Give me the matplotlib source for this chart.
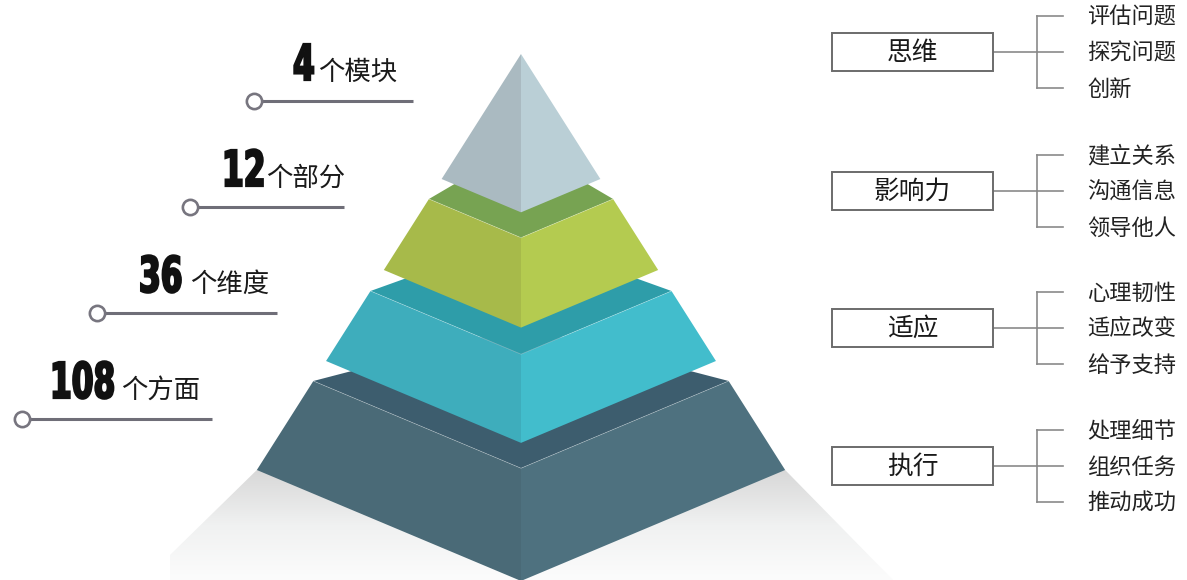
import numpy as np
import matplotlib
matplotlib.use("Agg")
import matplotlib.pyplot as plt
from matplotlib.patches import Polygon, Rectangle
from matplotlib import patheffects
from matplotlib.transforms import Affine2D

plt.rcParams['font.family'] = ['Noto Sans CJK SC', 'DejaVu Sans']

# --- content -----------------------------------------------------------
tier_counts = [4, 12, 36, 108]
tier_units = ['个模块', '个部分', '个维度', '个方面']

modules = ['思维', '影响力', '适应', '执行']
sub_items = [
    ['评估问题', '探究问题', '创新'],
    ['建立关系', '沟通信息', '领导他人'],
    ['心理韧性', '适应改变', '给予支持'],
    ['处理细节', '组织任务', '推动成功'],
]

# face colours per tier, top to bottom: (top face, left face, right face)
tier_colors = [
    (None, '#AABAC1', '#BACFD6'),
    ('#77A352', '#A7BA4A', '#B4CB50'),
    ('#2E9DA9', '#3EADBC', '#42BDCC'),
    ('#3D5D6E', '#4A6A77', '#4E717F'),
]

# --- layout ------------------------------------------------------------
W, H = 1187, 580
cx, apex_y = 521, 54
side_slope = 0.635          # half width gained per pixel going down
dip = 0.42                  # front corner drop relative to half width
back_rise = 54
tier_rows = [(apex_y, 179), (199, 270), (291, 361), (381, 470)]


class Tall(patheffects.AbstractPathEffect):
    """Stretch glyphs upward from the baseline and fatten them with a stroke."""

    def __init__(self, sy=1.5, stroke=1.5, color='#111111'):
        super().__init__()
        self.sy = sy
        self.stroke = stroke
        self.color = color

    def draw_path(self, renderer, gc, tpath, affine, rgbFace=None):
        aff = Affine2D().scale(1.0, self.sy) + affine
        gc0 = renderer.new_gc()
        gc0.copy_properties(gc)
        gc0.set_foreground(self.color)
        gc0.set_linewidth(self.stroke)
        gc0.set_joinstyle('miter')
        renderer.draw_path(gc0, tpath, aff, rgbFace)
        gc0.restore()


fig = plt.figure(figsize=(W / 100, H / 100), dpi=100)
ax = fig.add_axes([0, 0, 1, 1])
ax.set_xlim(0, W)
ax.set_ylim(H, 0)
ax.axis('off')


def half(y):
    return (y - apex_y) * side_slope


# soft floor shadow under the pyramid
y_floor = tier_rows[-1][1]
hb = half(y_floor)
shadow = Polygon([(cx - hb, y_floor), (cx + hb, y_floor), (893, H), (170, H), (170, 555)],
                 closed=True, facecolor='none', edgecolor='none')
ax.add_patch(shadow)
grad = np.linspace(0, 1, 200).reshape(-1, 1)
shade = ax.imshow(grad, cmap=matplotlib.colors.LinearSegmentedColormap.from_list(
    'sh', ['#D8D8D8', '#F0F1F1', '#FCFCFC']), extent=(160, 900, H, y_floor),
    aspect='auto', zorder=1)
shade.set_clip_path(shadow)

# pyramid tiers, drawn bottom first so upper tiers overlap
for i in reversed(range(len(tier_rows))):
    y0, y1 = tier_rows[i]
    top_c, left_c, right_c = tier_colors[i]
    h0, h1 = half(y0), half(y1)
    d0, d1 = dip * h0, dip * h1
    z = 2 + (len(tier_rows) - i)
    if top_c is not None:
        ax.add_patch(Polygon([(cx - h0, y0), (cx, y0 - back_rise), (cx + h0, y0), (cx, y0 + d0)],
                             closed=True, fc=top_c, ec='none', zorder=z))
    ax.add_patch(Polygon([(cx - h0, y0), (cx, y0 + d0), (cx, y1 + d1), (cx - h1, y1)],
                         closed=True, fc=left_c, ec='none', zorder=z))
    ax.add_patch(Polygon([(cx + h0, y0), (cx, y0 + d0), (cx, y1 + d1), (cx + h1, y1)],
                         closed=True, fc=right_c, ec='none', zorder=z))
    if top_c is not None:
        ax.plot([cx - h0, cx, cx + h0], [y0, y0 + d0, y0], color='white', lw=0.5,
                alpha=0.35, zorder=z)

# left side: counts with leader lines
line_color = '#6F6E78'
num_left = [293, 222, 139, 50]
unit_left = [318, 266, 190, 121]
baselines = [80, 186, 292, 398]
lead_start = [254, 190, 97, 22]
lead_end = [413, 344, 277, 212]
for k, (cnt, unit) in enumerate(zip(tier_counts, tier_units)):
    ax.text(num_left[k], baselines[k], str(cnt), fontsize=22.5, fontweight='bold',
            family=['DejaVu Sans'], color='#111111', ha='left', va='baseline',
            path_effects=[Tall(sy=1.58, stroke=1.6)])
    ax.text(unit_left[k], baselines[k], unit, fontsize=19, color='#1A1A1A',
            ha='left', va='baseline')
    ly = baselines[k] + 20.5
    ax.plot([lead_start[k], lead_end[k]], [ly, ly], color=line_color, lw=2.2,
            solid_capstyle='butt', zorder=5)
    ax.plot(lead_start[k], ly, 'o', ms=11, mfc='white', mec='#77757F', mew=1.9, zorder=6)

# right side: modules and their sub items
box_x0, box_x1 = 832, 993
box_h = 38.5
bracket_x, tick_x, item_x = 1037, 1063, 1087
box_cy = [52, 191, 328, 466]
item_gap = 36
conn = '#8A8A8A'
for m, name in enumerate(modules):
    cy = box_cy[m]
    ax.add_patch(Rectangle((box_x0, cy - box_h / 2), box_x1 - box_x0, box_h,
                           fc='white', ec='#6B6B6B', lw=1.4, zorder=5))
    ax.text((box_x0 + box_x1) / 2, cy + 1, name, fontsize=18.5, color='#1A1A1A',
            ha='center', va='center', zorder=6)
    ax.plot([box_x1, bracket_x], [cy, cy], color=conn, lw=1.2)
    ys = [cy + (j - 1) * item_gap for j in range(len(sub_items[m]))]
    ax.plot([bracket_x, bracket_x], [ys[0], ys[-1]], color=conn, lw=1.2)
    for yy, item in zip(ys, sub_items[m]):
        ax.plot([bracket_x, tick_x], [yy, yy], color=conn, lw=1.2)
        ax.text(item_x, yy + 1, item, fontsize=16, color='#222222', ha='left', va='center')

fig.savefig('out.png', dpi=100, facecolor='white')
